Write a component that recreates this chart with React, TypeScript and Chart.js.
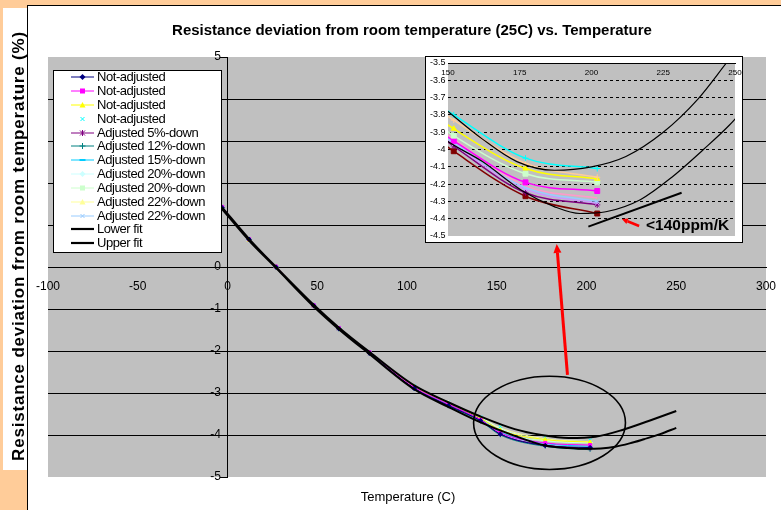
import React, { useEffect, useRef } from "react";
import { Chart, registerables } from "chart.js";

Chart.register(...registerables);

const FONT = "'Liberation Sans', Arial, sans-serif";

// ---------- main chart data ----------
const temperatures = [-3, 12, 27, 48, 62, 79, 104, 123, 141, 152, 177, 202];

const notAdjustedA = [1.41, 0.66, 0.0, -0.92, -1.47, -2.05, -2.89, -3.3, -3.66, -3.98, -4.25, -4.3];
const notAdjustedB = [1.43, 0.66, 0.01, -0.91, -1.45, -2.03, -2.86, -3.26, -3.64, -3.95, -4.19, -4.24];
const notAdjustedC = [1.4, 0.64, 0.0, -0.92, -1.46, -2.04, -2.85, -3.24, -3.6, -3.88, -4.11, -4.17];
const notAdjustedD = [1.39, 0.65, 0.01, -0.91, -1.45, -2.02, -2.84, -3.22, -3.57, -3.8, -4.06, -4.12];
const adjusted5 = [1.42, 0.66, 0.0, -0.93, -1.47, -2.05, -2.88, -3.29, -3.63, -3.98, -4.24, -4.32];
const adjusted12 = [1.41, 0.65, -0.01, -0.93, -1.48, -2.06, -2.9, -3.31, -3.67, -4.0, -4.27, -4.35];
const adjusted15 = [1.4, 0.65, 0.0, -0.92, -1.46, -2.04, -2.87, -3.27, -3.63, -3.93, -4.2, -4.27];
const adjusted20A = [1.39, 0.64, 0.0, -0.91, -1.45, -2.03, -2.85, -3.23, -3.58, -3.85, -4.12, -4.18];
const adjusted20B = [1.4, 0.65, 0.0, -0.92, -1.46, -2.04, -2.86, -3.25, -3.61, -3.92, -4.14, -4.19];
const adjusted22A = [1.38, 0.64, 0.01, -0.91, -1.45, -2.03, -2.84, -3.23, -3.58, -3.83, -4.09, -4.16];
const adjusted22B = [1.41, 0.65, 0.0, -0.92, -1.47, -2.05, -2.88, -3.28, -3.64, -3.96, -4.22, -4.3];

const seriesLabels = [
  "Not-adjusted",
  "Not-adjusted",
  "Not-adjusted",
  "Not-adjusted",
  "Adjusted 5%-down",
  "Adjusted 12%-down",
  "Adjusted 15%-down",
  "Adjusted 20%-down",
  "Adjusted 20%-down",
  "Adjusted 22%-down",
  "Adjusted 22%-down",
];
const seriesValues = [
  notAdjustedA, notAdjustedB, notAdjustedC, notAdjustedD, adjusted5, adjusted12,
  adjusted15, adjusted20A, adjusted20B, adjusted22A, adjusted22B,
];
const seriesColors = [
  "#000080", "#FF00FF", "#FFFF00", "#00FFFF", "#800080", "#008080",
  "#00CCFF", "#CCFFFF", "#CCFFCC", "#FFFF99", "#99CCFF",
];
const seriesMarkers = [
  "diamond", "square", "triangle", "x", "star", "plus",
  "dash", "diamond", "square", "triangle", "x",
];
const seriesShowLine = [true, true, true, false, true, true, true, true, true, true, true];

const lowerFitT = [-3, 12, 27, 48, 62, 79, 104, 123, 141, 160, 177, 190, 200, 208, 216, 224, 232, 241, 250];
const lowerFitV = [1.38, 0.63, -0.02, -0.94, -1.48, -2.07, -2.91, -3.33, -3.7, -4.02, -4.25, -4.31, -4.33, -4.32, -4.28, -4.2, -4.1, -3.98, -3.83];
const upperFitT = [-3, 12, 27, 48, 62, 79, 104, 123, 141, 160, 175, 190, 205, 220, 235, 250];
const upperFitV = [1.42, 0.67, 0.0, -0.9, -1.44, -2.02, -2.82, -3.22, -3.56, -3.86, -4.0, -4.07, -4.04, -3.88, -3.66, -3.43];

const xTickStep = 50;
const xMin = -100;
const xMax = 300;
const yMin = -5;
const yMax = 5;

// annotation (data units)
const ellipseCenter = [179.4, -3.71];
const ellipseRadius = [42.3, 1.11];
const redArrowFrom = [189.4, -2.57];
const redArrowTo = [183.4, 0.55];

// ---------- inset data ----------
const insetTemps = [127, 152, 177, 202];
const insetCyan = [-3.52, -3.8, -4.05, -4.11];
const insetPeach = [-3.55, -3.83, -4.08, -4.16];
const insetYellow = [-3.58, -3.88, -4.11, -4.17];
const insetGreen = [-3.62, -3.92, -4.14, -4.19];
const insetMagenta = [-3.66, -3.95, -4.19, -4.24];
const insetPink = [-3.64, -3.94, -4.21, -4.28];
const insetBlue = [-3.67, -3.96, -4.22, -4.3];
const insetLavender = [-3.66, -3.97, -4.23, -4.31];
const insetPurple = [-3.68, -3.98, -4.25, -4.32];
const insetDarkRed = [-3.7, -4.01, -4.27, -4.37];

const insetValues = [
  insetCyan, insetPeach, insetYellow, insetGreen, insetMagenta,
  insetPink, insetBlue, insetLavender, insetPurple, insetDarkRed,
];
const insetColors = [
  "#00FFFF", "#FFCC99", "#FFFF00", "#CCFFCC", "#FF00FF",
  "#FF99CC", "#99CCFF", "#CC99FF", "#800080", "#800000",
];
const insetMarkers = [
  "plus", "plus", "triangle", "square", "square",
  "none", "x", "x", "star", "square",
];

const insetUpperT = [140, 150, 162, 174, 187, 200, 212, 225, 237, 247, 255];
const insetUpperV = [-3.64, -3.78, -3.94, -4.07, -4.12, -4.1, -4.04, -3.9, -3.71, -3.5, -3.33];
const insetLowerT = [140, 148, 162, 176, 187, 196, 205, 217, 228, 239, 248, 255];
const insetLowerV = [-3.8, -3.93, -4.07, -4.24, -4.33, -4.37, -4.36, -4.29, -4.16, -4.0, -3.86, -3.73];

const slopeLineT = [198.9, 231.4];
const slopeLineV = [-4.446, -4.25];
const ppmArrowFrom = [216.6, -4.442];
const ppmArrowTo = [210.6, -4.402];

const pointStyleMap: Record<string, any> = {
  diamond: "rectRot",
  square: "rect",
  triangle: "triangle",
  x: "crossRot",
  star: "star",
  plus: "cross",
  dash: "line",
  none: false,
};

function toPoints(xs: number[], ys: number[]) {
  return xs.map((x, i) => ({ x, y: ys[i] }));
}

function zeroPadding(scale: any) {
  scale.paddingLeft = 0;
  scale.paddingRight = 0;
  scale.paddingTop = 0;
  scale.paddingBottom = 0;
}

function drawArrow(
  ctx: CanvasRenderingContext2D,
  x1: number, y1: number, x2: number, y2: number,
  width: number, headLen: number, headW: number, color: string
) {
  const ang = Math.atan2(y2 - y1, x2 - x1);
  const bx = x2 - headLen * Math.cos(ang);
  const by = y2 - headLen * Math.sin(ang);
  ctx.save();
  ctx.strokeStyle = color;
  ctx.fillStyle = color;
  ctx.lineWidth = width;
  ctx.beginPath();
  ctx.moveTo(x1, y1);
  ctx.lineTo(bx, by);
  ctx.stroke();
  ctx.beginPath();
  ctx.moveTo(x2, y2);
  ctx.lineTo(bx + (headW / 2) * Math.sin(ang), by - (headW / 2) * Math.cos(ang));
  ctx.lineTo(bx - (headW / 2) * Math.sin(ang), by + (headW / 2) * Math.cos(ang));
  ctx.closePath();
  ctx.fill();
  ctx.restore();
}

const plotBackground = {
  id: "plotBackground",
  beforeDraw(chart: any) {
    const { ctx, chartArea } = chart;
    ctx.save();
    ctx.fillStyle = "#C0C0C0";
    ctx.fillRect(chartArea.left, chartArea.top, chartArea.right - chartArea.left, chartArea.bottom - chartArea.top);
    ctx.restore();
  },
};

const mainAnnotations = {
  id: "mainAnnotations",
  afterDatasetsDraw(chart: any) {
    const { ctx, scales } = chart;
    const xs = scales.x;
    const ys = scales.y;
    const cx = xs.getPixelForValue(ellipseCenter[0]);
    const cy = ys.getPixelForValue(ellipseCenter[1]);
    const rx = xs.getPixelForValue(ellipseCenter[0] + ellipseRadius[0]) - cx;
    const ry = cy - ys.getPixelForValue(ellipseCenter[1] + ellipseRadius[1]);
    ctx.save();
    ctx.strokeStyle = "#000";
    ctx.lineWidth = 1.6;
    ctx.beginPath();
    ctx.ellipse(cx, cy, rx, ry, 0, 0, Math.PI * 2);
    ctx.stroke();
    ctx.restore();
    drawArrow(
      ctx,
      xs.getPixelForValue(redArrowFrom[0]), ys.getPixelForValue(redArrowFrom[1]),
      xs.getPixelForValue(redArrowTo[0]), ys.getPixelForValue(redArrowTo[1]),
      3, 9, 8, "#FF0000"
    );
  },
};

const insetAnnotations = {
  id: "insetAnnotations",
  afterDatasetsDraw(chart: any) {
    const { ctx, scales } = chart;
    drawArrow(
      ctx,
      scales.x.getPixelForValue(ppmArrowFrom[0]), scales.y.getPixelForValue(ppmArrowFrom[1]),
      scales.x.getPixelForValue(ppmArrowTo[0]), scales.y.getPixelForValue(ppmArrowTo[1]),
      2.5, 6, 6, "#FF0000"
    );
  },
};

function LegendMarker({ kind, color, line, lineWidth }: { kind: string; color: string; line: boolean; lineWidth: number }) {
  const c = 11.5;
  const m = 6;
  return (
    <svg width={24} height={12} style={{ display: "block" }}>
      {line && <line x1={0} y1={m} x2={23} y2={m} stroke={color} strokeWidth={lineWidth} />}
      {kind === "diamond" && <polygon points={`${c},${m - 3} ${c + 3},${m} ${c},${m + 3} ${c - 3},${m}`} fill={color} />}
      {kind === "square" && <rect x={c - 2.5} y={m - 2.5} width={5} height={5} fill={color} />}
      {kind === "triangle" && <polygon points={`${c},${m - 3} ${c + 3},${m + 2.5} ${c - 3},${m + 2.5}`} fill={color} />}
      {kind === "x" && (
        <g stroke={color} strokeWidth={1}>
          <line x1={c - 2} y1={m - 2} x2={c + 2} y2={m + 2} />
          <line x1={c - 2} y1={m + 2} x2={c + 2} y2={m - 2} />
        </g>
      )}
      {kind === "star" && (
        <g stroke={color} strokeWidth={1}>
          <line x1={c - 2.5} y1={m - 2.5} x2={c + 2.5} y2={m + 2.5} />
          <line x1={c - 2.5} y1={m + 2.5} x2={c + 2.5} y2={m - 2.5} />
          <line x1={c} y1={m - 3} x2={c} y2={m + 3} />
        </g>
      )}
      {kind === "plus" && (
        <g stroke={color} strokeWidth={1}>
          <line x1={c} y1={m - 3} x2={c} y2={m + 3} />
          <line x1={c - 3} y1={m} x2={c + 3} y2={m} />
        </g>
      )}
      {kind === "dash" && <rect x={c - 3} y={m - 1} width={6} height={2} fill={color} />}
    </svg>
  );
}

export default function App() {
  const mainRef = useRef<HTMLCanvasElement | null>(null);
  const insetRef = useRef<HTMLCanvasElement | null>(null);

  useEffect(() => {
    if (!mainRef.current || !insetRef.current) return;

    const mainDatasets: any[] = seriesValues.map((vals, i) => ({
      label: seriesLabels[i],
      data: toPoints(temperatures, vals),
      borderColor: seriesColors[i],
      backgroundColor: seriesColors[i],
      borderWidth: 1,
      showLine: seriesShowLine[i],
      pointStyle: pointStyleMap[seriesMarkers[i]],
      pointRadius: 2.2,
      pointBorderWidth: 1,
      cubicInterpolationMode: "monotone",
      order: 2,
    }));
    mainDatasets.push({
      label: "Lower fit",
      data: toPoints(lowerFitT, lowerFitV),
      borderColor: "#000",
      backgroundColor: "#000",
      borderWidth: 2,
      showLine: true,
      pointRadius: 0,
      cubicInterpolationMode: "monotone",
      order: 1,
    });
    mainDatasets.push({
      label: "Upper fit",
      data: toPoints(upperFitT, upperFitV),
      borderColor: "#000",
      backgroundColor: "#000",
      borderWidth: 2,
      showLine: true,
      pointRadius: 0,
      cubicInterpolationMode: "monotone",
      order: 1,
    });

    const mainChart = new Chart(mainRef.current, {
      type: "scatter",
      data: { datasets: mainDatasets },
      options: {
        animation: false,
        responsive: false,
        maintainAspectRatio: false,
        events: [],
        layout: { padding: { left: 48, right: 15, top: 57, bottom: 33 } },
        plugins: {
          legend: { display: false },
          title: { display: false },
          tooltip: { enabled: false },
        },
        scales: {
          x: {
            type: "linear",
            min: xMin,
            max: xMax,
            position: { y: 0 } as any,
            afterFit: zeroPadding,
            grid: { display: false, drawTicks: false },
            border: { display: true, color: "#000", width: 1 },
            ticks: {
              stepSize: xTickStep,
              autoSkip: false,
              maxRotation: 0,
              padding: 12,
              color: "#000",
              font: { family: FONT, size: 12 },
            },
          },
          y: {
            type: "linear",
            min: yMin,
            max: yMax,
            position: { x: 0 } as any,
            afterFit: zeroPadding,
            grid: {
              color: (ctx: any) =>
                ctx.tick && Math.abs(ctx.tick.value) === 5 ? "rgba(0,0,0,0)" : "#000",
              lineWidth: 1,
              drawTicks: true,
              tickLength: 7,
              tickColor: "#000",
            },
            border: { display: true, color: "#000", width: 1 },
            ticks: {
              stepSize: 1,
              color: "#000",
              font: { family: FONT, size: 12 },
              callback: (v: any) => `${v}  `,
            },
          },
        },
      },
      plugins: [plotBackground, mainAnnotations],
    });

    const insetDatasets: any[] = insetValues.map((vals, i) => ({
      label: `inset-${i}`,
      data: toPoints(insetTemps, vals),
      borderColor: insetColors[i],
      backgroundColor: insetColors[i],
      borderWidth: 1.5,
      showLine: true,
      pointStyle: pointStyleMap[insetMarkers[i]],
      pointRadius: insetMarkers[i] === "square" ? 3.5 : 3,
      pointBorderWidth: 1,
      cubicInterpolationMode: "monotone",
      order: 2,
    }));
    insetDatasets.push({
      label: "inset-upper",
      data: toPoints(insetUpperT, insetUpperV),
      borderColor: "#000",
      borderWidth: 1.2,
      showLine: true,
      pointRadius: 0,
      cubicInterpolationMode: "monotone",
      order: 1,
    });
    insetDatasets.push({
      label: "inset-lower",
      data: toPoints(insetLowerT, insetLowerV),
      borderColor: "#000",
      borderWidth: 1.2,
      showLine: true,
      pointRadius: 0,
      cubicInterpolationMode: "monotone",
      order: 1,
    });
    insetDatasets.push({
      label: "slope",
      data: toPoints(slopeLineT, slopeLineV),
      borderColor: "#000",
      borderWidth: 2,
      showLine: true,
      pointRadius: 0,
      order: 0,
    });

    const insetChart = new Chart(insetRef.current, {
      type: "scatter",
      data: { datasets: insetDatasets },
      options: {
        animation: false,
        responsive: false,
        maintainAspectRatio: false,
        events: [],
        layout: { padding: { left: 22, right: 7, top: 6, bottom: 6 } },
        plugins: {
          legend: { display: false },
          title: { display: false },
          tooltip: { enabled: false },
        },
        scales: {
          x: {
            type: "linear",
            min: 150,
            max: 250,
            position: { y: -3.5 } as any,
            afterFit: zeroPadding,
            grid: { display: false, drawTicks: false },
            border: { display: true, color: "#000", width: 1 },
            ticks: {
              stepSize: 25,
              autoSkip: false,
              maxRotation: 0,
              padding: 5,
              color: "#000",
              font: { family: FONT, size: 8 },
            },
          },
          y: {
            type: "linear",
            min: -4.5,
            max: -3.5,
            position: { x: 150 } as any,
            afterFit: zeroPadding,
            grid: {
              color: (ctx: any) =>
                ctx.tick && ctx.tick.value > -4.45 && ctx.tick.value < -3.55 ? "#000" : "rgba(0,0,0,0)",
              lineWidth: 1,
              drawTicks: false,
            },
            border: { display: false, dash: [3, 3] },
            ticks: {
              stepSize: 0.1,
              color: "#000",
              font: { family: FONT, size: 9 },
              callback: (v: any) => `${Math.round(Number(v) * 10) / 10} `,
            },
          },
        },
      },
      plugins: [plotBackground, insetAnnotations],
    });

    return () => {
      mainChart.destroy();
      insetChart.destroy();
    };
  }, []);

  const legendEntries = seriesLabels.map((label, i) => ({
    label,
    color: seriesColors[i],
    marker: seriesMarkers[i],
    line: seriesShowLine[i],
    lineWidth: 1,
  }));
  legendEntries.push({ label: "Lower fit", color: "#000", marker: "none", line: true, lineWidth: 2.2 });
  legendEntries.push({ label: "Upper fit", color: "#000", marker: "none", line: true, lineWidth: 2.2 });

  return (
    <div
      style={{
        position: "absolute",
        left: 0,
        top: 0,
        width: 781,
        height: 510,
        background: "#FFCC99",
        overflow: "hidden",
        fontFamily: FONT,
      }}
    >
      {/* chart object box */}
      <div
        style={{
          position: "absolute",
          left: 27,
          top: 5,
          width: 780,
          height: 520,
          background: "#FFFFFF",
          borderLeft: "1px solid #000",
          borderTop: "1px solid #000",
        }}
      />
      <canvas ref={mainRef} width={781} height={510} style={{ position: "absolute", left: 0, top: 0 }} />

      {/* title */}
      <div
        style={{
          position: "absolute",
          left: 112,
          top: 21,
          width: 600,
          textAlign: "center",
          fontSize: 15,
          fontWeight: "bold",
          lineHeight: "18px",
          color: "#000",
          whiteSpace: "nowrap",
        }}
      >
        Resistance deviation from room temperature (25C) vs. Temperature
      </div>

      {/* x title */}
      <div
        style={{
          position: "absolute",
          left: 308,
          top: 489,
          width: 200,
          textAlign: "center",
          fontSize: 13,
          lineHeight: "16px",
          color: "#000",
          whiteSpace: "nowrap",
        }}
      >
        Temperature (C)
      </div>

      {/* y title box */}
      <div style={{ position: "absolute", left: 3, top: 8, width: 24, height: 462, background: "#FFFFFF" }} />
      <div
        style={{
          position: "absolute",
          left: 19 - 235,
          top: 246 - 10,
          width: 470,
          height: 20,
          lineHeight: "20px",
          textAlign: "center",
          fontSize: 17,
          fontWeight: "bold",
          letterSpacing: "0.8px",
          color: "#000",
          whiteSpace: "nowrap",
          transform: "rotate(-90deg)",
          transformOrigin: "center center",
        }}
      >
        Resistance deviation from room temperature (%)
      </div>

      {/* legend */}
      <div
        style={{
          position: "absolute",
          left: 53,
          top: 70,
          width: 169,
          height: 183,
          boxSizing: "border-box",
          background: "#FFFFFF",
          border: "1px solid #000",
        }}
      >
        {legendEntries.map((e, i) => {
          const cy = 6.3 + i * 13.83;
          return (
            <div key={i} style={{ position: "absolute", left: 0, top: cy - 7, height: 14, width: 167 }}>
              <div style={{ position: "absolute", left: 17, top: 1 }}>
                <LegendMarker kind={e.marker} color={e.color} line={e.line} lineWidth={e.lineWidth} />
              </div>
              <div
                style={{
                  position: "absolute",
                  left: 43,
                  top: 0,
                  fontSize: 13,
                  lineHeight: "14px",
                  letterSpacing: "-0.45px",
                  color: "#000",
                  whiteSpace: "nowrap",
                }}
              >
                {e.label}
              </div>
            </div>
          );
        })}
      </div>

      {/* inset */}
      <div
        style={{
          position: "absolute",
          left: 425,
          top: 56,
          width: 318,
          height: 187,
          boxSizing: "border-box",
          background: "#FFFFFF",
          border: "1px solid #000",
        }}
      >
        <canvas ref={insetRef} width={316} height={185} style={{ position: "absolute", left: 0, top: 0 }} />
      </div>
      <div
        style={{
          position: "absolute",
          left: 646,
          top: 215,
          fontSize: 15.5,
          fontWeight: "bold",
          lineHeight: "20px",
          color: "#000",
          whiteSpace: "nowrap",
        }}
      >
        &lt;140ppm/K
      </div>
    </div>
  );
}
